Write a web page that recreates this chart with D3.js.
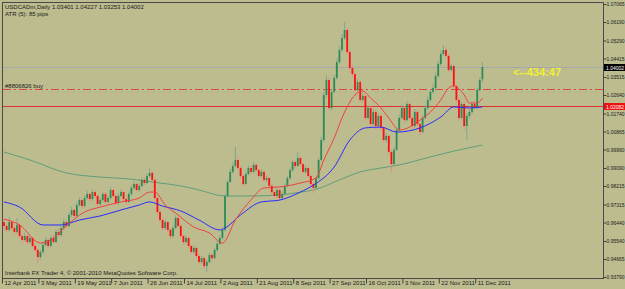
<!DOCTYPE html>
<html>
<head>
<meta charset="utf-8">
<script src="https://cdn.jsdelivr.net/npm/d3@7"></script>
<style>
body { margin: 0; background: #bdbc8f; }
svg { display: block; font-family: "Liberation Sans", Arial, sans-serif; }
</style>
</head>
<body>
<svg width="625" height="289"></svg>
<script>

// daily bars, USDCADm
var open = [
	.9646,.9627,.9608,.9646,.9617,.9598,.9632,.9578,.9559,.9578,
	.9549,.9569,.9530,.9510,.9476,.9501,.9535,.9559,.9530,.9569,
	.9549,.9598,.9583,.9617,.9646,.9627,.9681,.9705,.9676,.9729,
	.9753,.9724,.9763,.9783,.9758,.9792,.9773,.9734,.9753,.9783,
	.9744,.9763,.9802,.9773,.9739,.9773,.9792,.9758,.9744,.9783,
	.9812,.9831,.9802,.9822,.9851,.9836,.9870,.9885,.9851,.9763,
	.9695,.9656,.9617,.9646,.9608,.9578,.9617,.9666,.9627,.9578,
	.9549,.9569,.9530,.9501,.9520,.9481,.9452,.9471,.9432,.9452,
	.9486,.9471,.9510,.9540,.9569,.9608,.9773,.9841,.9890,.9919,
	.9948,.9909,.9870,.9831,.9880,.9909,.9890,.9924,.9899,.9870,
	.9890,.9851,.9860,.9822,.9792,.9773,.9802,.9763,.9783,.9822,
	.9860,.9899,.9938,.9919,.9958,.9928,.9890,.9909,.9870,.9831,
	.9812,.9860,.9948,1.0045,1.0264,1.0337,1.0201,1.0279,1.0347,1.0424,
	1.0483,1.0541,1.0580,1.0473,1.0395,1.0366,1.0288,1.0327,1.0240,1.0259,
	1.0152,1.0201,1.0123,1.0181,1.0113,1.0162,1.0104,1.0045,1.0065,.9987,
	.9928,.9997,1.0094,1.0152,1.0201,1.0142,1.0220,1.0152,1.0113,1.0181,
	1.0123,1.0084,1.0152,1.0201,1.0240,1.0279,1.0298,1.0356,1.0415,1.0463,
	1.0483,1.0454,1.0386,1.0405,1.0308,1.0240,1.0152,1.0220,1.0113,1.0162,
	1.0181,1.0220,1.0201,1.0288,1.03401
];
var high = [
	.9660,.9641,.9671,.9655,.9630,.9666,.9640,.9588,.9595,.9586,
	.9580,.9575,.9540,.9518,.9512,.9548,.9572,.9566,.9580,.9585,
	.9610,.9612,.9628,.9660,.9652,.9692,.9720,.9712,.9740,.9765,
	.9760,.9775,.9800,.9790,.9805,.9799,.9780,.9766,.9795,.9792,
	.9775,.9815,.9810,.9780,.9786,.9806,.9800,.9766,.9794,.9825,
	.9845,.9838,.9835,.9862,.9866,.9882,.9909,.9895,.9858,.9770,
	.9705,.9665,.9658,.9652,.9615,.9628,.9678,.9672,.9635,.9585,
	.9582,.9575,.9538,.9532,.9528,.9490,.9484,.9478,.9463,.9497,
	.9494,.9522,.9552,.9582,.9620,.9782,.9852,.9905,.9935,1.0011,
	.9962,.9918,.9878,.9892,.9922,.9918,.9938,.9932,.9906,.9902,
	.9898,.9872,.9868,.9830,.9800,.9812,.9810,.9795,.9833,.9872,
	.9910,.9950,.9946,.9987,.9965,.9935,.9922,.9915,.9876,.9838,
	.9872,.9960,1.0060,1.0280,1.0360,1.0350,1.0295,1.0362,1.0440,1.0500,
	1.0560,1.0619,1.0590,1.0480,1.0410,1.0372,1.0340,1.0335,1.0275,1.0265,
	1.0215,1.0210,1.0195,1.0190,1.0175,1.0170,1.0112,1.0080,1.0072,.9995,
	1.0010,1.0108,1.0168,1.0218,1.0210,1.0235,1.0228,1.0160,1.0195,1.0190,
	1.0130,1.0165,1.0215,1.0255,1.0292,1.0315,1.0370,1.0430,1.0478,1.0507,
	1.0500,1.0462,1.0418,1.0412,1.0315,1.0250,1.0232,1.0228,1.0175,1.0195,
	1.0232,1.0235,1.0300,1.0350,1.04227
];
var low = [
	.9612,.9597,.9600,.9605,.9585,.9590,.9570,.9545,.9550,.9537,
	.9540,.9522,.9498,.9447,.9465,.9490,.9525,.9518,.9522,.9540,
	.9542,.9572,.9575,.9608,.9615,.9620,.9670,.9665,.9670,.9720,
	.9712,.9718,.9755,.9748,.9750,.9765,.9722,.9725,.9745,.9735,
	.9733,.9755,.9765,.9728,.9730,.9765,.9750,.9730,.9738,.9775,
	.9805,.9795,.9794,.9815,.9828,.9830,.9862,.9842,.9750,.9685,
	.9645,.9605,.9608,.9598,.9566,.9570,.9610,.9618,.9568,.9536,
	.9540,.9520,.9490,.9492,.9470,.9440,.9444,.9420,.9403,.9445,
	.9462,.9465,.9502,.9535,.9560,.9600,.9765,.9835,.9880,.9910,
	.9900,.9860,.9820,.9825,.9872,.9880,.9882,.9890,.9860,.9862,
	.9842,.9840,.9812,.9780,.9760,.9765,.9752,.9755,.9775,.9815,
	.9852,.9890,.9908,.9912,.9920,.9880,.9882,.9860,.9822,.9787,
	.9805,.9852,.9940,1.0035,1.0250,1.0188,1.0190,1.0270,1.0338,1.0415,
	1.0475,1.0530,1.0462,1.0385,1.0352,1.0275,1.0278,1.0228,1.0230,1.0140,
	1.0145,1.0110,1.0115,1.0100,1.0105,1.0092,1.0032,1.0035,.9975,.9890,
	.9918,.9990,1.0085,1.0145,1.0130,1.0135,1.0140,1.0100,1.0105,1.0112,
	1.0070,1.0078,1.0145,1.0192,1.0232,1.0270,1.0290,1.0348,1.0405,1.0455,
	1.0445,1.0375,1.0378,1.0296,1.0228,1.0140,1.0145,1.0094,1.0045,1.0150,
	1.0172,1.0190,1.0195,1.0280,1.03253
];
var close = [
	.9627,.9608,.9646,.9617,.9598,.9632,.9578,.9559,.9578,.9549,
	.9569,.9530,.9510,.9476,.9501,.9535,.9559,.9530,.9569,.9549,
	.9598,.9583,.9617,.9646,.9627,.9681,.9705,.9676,.9729,.9753,
	.9724,.9763,.9783,.9758,.9792,.9773,.9734,.9753,.9783,.9744,
	.9763,.9802,.9773,.9739,.9773,.9792,.9758,.9744,.9783,.9812,
	.9831,.9802,.9822,.9851,.9836,.9870,.9885,.9851,.9763,.9695,
	.9656,.9617,.9646,.9608,.9578,.9617,.9666,.9627,.9578,.9549,
	.9569,.9530,.9501,.9520,.9481,.9452,.9471,.9432,.9452,.9486,
	.9471,.9510,.9540,.9569,.9608,.9773,.9841,.9890,.9919,.9948,
	.9909,.9870,.9831,.9880,.9909,.9890,.9924,.9899,.9870,.9890,
	.9851,.9860,.9822,.9792,.9773,.9802,.9763,.9783,.9822,.9860,
	.9899,.9938,.9919,.9958,.9928,.9890,.9909,.9870,.9831,.9812,
	.9860,.9948,1.0045,1.0264,1.0337,1.0201,1.0279,1.0347,1.0424,1.0483,
	1.0541,1.0580,1.0473,1.0395,1.0366,1.0288,1.0327,1.0240,1.0259,1.0152,
	1.0201,1.0123,1.0181,1.0113,1.0162,1.0104,1.0045,1.0065,.9987,.9928,
	.9997,1.0094,1.0152,1.0201,1.0142,1.0220,1.0152,1.0113,1.0181,1.0123,
	1.0084,1.0152,1.0201,1.0240,1.0279,1.0298,1.0356,1.0415,1.0463,1.0483,
	1.0454,1.0386,1.0405,1.0308,1.0240,1.0152,1.0220,1.0113,1.0162,1.0181,
	1.0220,1.0201,1.0288,1.0337,1.04002
];

/*
	moving averages, read at some bars
*/
var maRedIdx = [0,6,14,18,23,31,37,45,52,56,58,62,66,73,79,84,89,95,100,106,114,120,123,127,131,135,138,141,145,148,152,156,160,164,168,171,173,177,179,182,184];
var maRed = [.9661,.9632,.9544,.9559,.9617,.9695,.9719,.9744,.9763,.9792,.9792,.9729,.9690,.9622,.9593,.9544,.9656,.9754,.9812,.9817,.9836,.9860,.9948,1.0055,1.0181,1.0264,1.0283,1.0249,1.0201,1.0152,1.0094,1.0108,1.0142,1.0181,1.0240,1.0298,1.0308,1.0264,1.0225,1.0225,1.0249];

var maBlueIdx = [0,6,15,22,29,37,45,52,56,61,68,75,83,85,91,99,106,114,119,127,133,139,145,151,160,168,173,179,184];
var maBlue = [.9744,.9719,.9632,.9632,.9656,.9676,.9705,.9729,.9744,.9724,.9700,.9656,.9608,.9617,.9681,.9744,.9753,.9792,.9826,.9914,1.0045,1.0104,1.0108,1.0084,1.0104,1.0157,1.0206,1.0201,1.0206];

var maGreenIdx = [0,10,24,37,48,60,68,75,85,95,106,114,119,129,137,145,152,164,175,184];
var maGreen = [.9987,.9948,.9885,.9865,.9856,.9836,.9822,.9802,.9773,.9773,.9778,.9792,.9802,.9851,.9890,.9909,.9924,.9963,.9997,1.0021];

var priceTicks = [1.07065,1.06190,1.05290,1.04415,1.03515,1.02640,1.01740,1.00865,0.99990,0.99090,0.98215,0.97315,0.96440,0.95540,0.94665,0.93790];

var dateIdx = [0,14,28,42,56,70,84,98,112,126,140,154,168,182];
var dateLabels = ['12 Apr 2011','3 May 2011','19 May 2011','7 Jun 2011','26 Jun 2011','14 Jul 2011','2 Aug 2011','21 Aug 2011','8 Sep 2011','27 Sep 2011','16 Oct 2011','3 Nov 2011','22 Nov 2011','11 Dec 2011'];

var orderPrice = 1.02932,
	stopPrice = 1.02082;


var svg = d3.select('svg'),
	W = 625,
	H = 289;

var x = d3.scaleLinear().domain([0, 184]).range([4, 482.4]);
var y = d3.scaleLinear().domain([0.93790, 1.07065]).range([277, 4]);


var defs = svg.append('defs');
defs.append('clipPath').attr('id', 'plotClip')
	.append('rect').attr('x', 3).attr('y', 3).attr('width', 600).attr('height', 275);

svg.append('rect').attr('width', W).attr('height', H).attr('fill', '#bdbc8f');


/*
	price lines
*/
var plot = svg.append('g').attr('clip-path', 'url(#plotClip)');

plot.append('line')
	.attr('x1', 3).attr('x2', 603)
	.attr('y1', Math.round(y(close[close.length - 1])) + 0.5)
	.attr('y2', Math.round(y(close[close.length - 1])) + 0.5)
	.attr('stroke', '#a4a8a8');

plot.append('line')
	.attr('x1', 3).attr('x2', 603)
	.attr('y1', Math.round(y(orderPrice)) + 0.5)
	.attr('y2', Math.round(y(orderPrice)) + 0.5)
	.attr('stroke', '#e04848')
	.attr('stroke-dasharray', '8,3,2,3');

plot.append('line')
	.attr('x1', 3).attr('x2', 603)
	.attr('y1', Math.round(y(stopPrice)) + 0.5)
	.attr('y2', Math.round(y(stopPrice)) + 0.5)
	.attr('stroke', '#e03030');


/*
	moving averages
*/
var maLine = d3.line()
	.x(function (d) { return x(d[0]); })
	.y(function (d) { return y(d[1]); })
	.curve(d3.curveMonotoneX);

plot.append('path').datum(d3.zip(maGreenIdx, maGreen))
	.attr('d', maLine).attr('fill', 'none')
	.attr('stroke', '#5f9f78').attr('stroke-width', 1);


/*
	candles
*/
var bars = close.map(function (c, i) {
	return { i: i, o: open[i], h: high[i], l: low[i], c: c };
});

plot.selectAll('line.wick').data(bars).enter().append('line')
	.attr('class', 'wick')
	.attr('x1', function (d) { return x(d.i); })
	.attr('x2', function (d) { return x(d.i); })
	.attr('y1', function (d) { return y(d.h); })
	.attr('y2', function (d) { return y(d.l); })
	.attr('stroke', function (d) { return d.c >= d.o ? '#7fa88a' : '#e88888'; })
	.attr('stroke-width', 1);

plot.selectAll('rect.body').data(bars).enter().append('rect')
	.attr('class', 'body')
	.attr('x', function (d) { return x(d.i) - 0.9; })
	.attr('width', 1.8)
	.attr('y', function (d) { return y(Math.max(d.o, d.c)); })
	.attr('height', function (d) { return Math.max(1, Math.abs(y(d.o) - y(d.c))); })
	.attr('fill', function (d) { return d.c >= d.o ? '#2e8b57' : '#ff1010'; });

plot.append('path').datum(d3.zip(maBlueIdx, maBlue))
	.attr('d', maLine).attr('fill', 'none')
	.attr('stroke', '#2a2aff').attr('stroke-width', 1);

plot.append('path').datum(d3.zip(maRedIdx, maRed))
	.attr('d', maLine).attr('fill', 'none')
	.attr('stroke', '#f04040').attr('stroke-width', 1);


/*
	frame
*/
svg.append('rect')
	.attr('x', 2.5).attr('y', 2.5)
	.attr('width', 601).attr('height', 276)
	.attr('fill', 'none').attr('stroke', '#4a4a4a');


/*
	axes
*/
var yAxis = d3.axisRight(y)
	.tickValues(priceTicks)
	.tickFormat(d3.format('.5f'))
	.tickSize(3)
	.tickPadding(0);

var ya = svg.append('g').attr('transform', 'translate(603.5,0)').call(yAxis);
ya.select('.domain').remove();
ya.selectAll('line').attr('stroke', '#404040');
ya.selectAll('text')
	.style('font-size', '5px')
	.attr('fill', '#202020');

var xAxis = d3.axisBottom(x)
	.tickValues(dateIdx)
	.tickFormat(function (d, k) { return dateLabels[k]; })
	.tickSize(5)
	.tickPadding(1);

var xa = svg.append('g').attr('transform', 'translate(-2,278.5)').call(xAxis);
xa.select('.domain').remove();
xa.selectAll('line').attr('stroke', '#404040');
xa.selectAll('text')
	.style('font-size', '6px')
	.attr('fill', '#202020')
	.attr('text-anchor', 'start')
	.attr('x', 2)
	.attr('y', 2)
	.attr('dy', '0.71em');


/*
	price boxes on the scale
*/
function priceBox(p, fill) {
	var yy = Math.round(y(p));
	svg.append('rect')
		.attr('x', 604).attr('y', yy - 3)
		.attr('width', 21).attr('height', 7)
		.attr('fill', fill);
	svg.append('text')
		.attr('x', 606).attr('y', yy + 2.5)
		.style('font-size', '5px')
		.attr('fill', '#ffffff')
		.text(d3.format('.5f')(p));
}
priceBox(close[close.length - 1], '#000000');
priceBox(stopPrice, '#ee1111');


/*
	texts
*/
svg.append('text').attr('x', 5).attr('y', 9)
	.style('font-size', '6px').attr('fill', '#1a1a1a')
	.text('USDCADm,Daily  1.03401 1.04227 1.03253 1.04002');

svg.append('text').attr('x', 5).attr('y', 16)
	.style('font-size', '6px').attr('fill', '#1a1a1a')
	.text('ATR (5): 85 pips');

svg.append('text').attr('x', 5).attr('y', 88)
	.style('font-size', '6px').attr('fill', '#1a1a1a')
	.text('#8806826 buy');

svg.append('text').attr('x', 5).attr('y', 275)
	.style('font-size', '6px').attr('fill', '#1a1a1a')
	.text('Interbank FX Trader 4, \u00a9 2001-2010 MetaQuotes Software Corp.');

svg.append('text').attr('x', 513).attr('y', 76)
	.style('font-size', '11px').style('font-weight', 'bold')
	.attr('fill', '#f2f030')
	.text('<--434:47');

</script>
</body>
</html>
